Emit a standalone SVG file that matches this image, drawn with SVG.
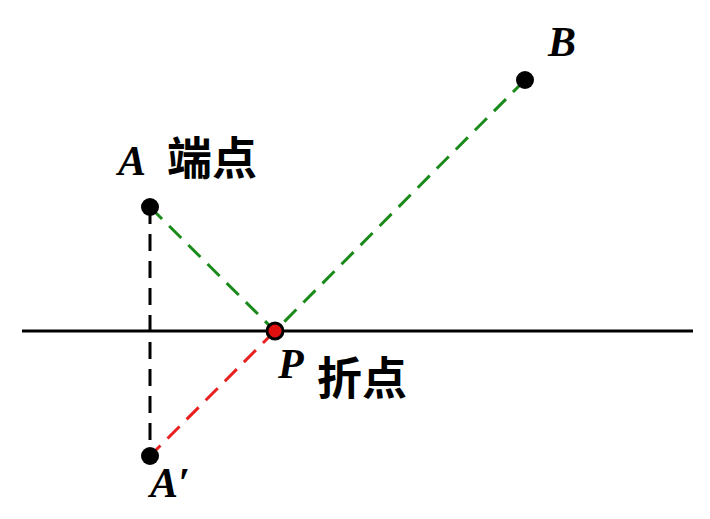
<svg xmlns="http://www.w3.org/2000/svg" width="710" height="519" viewBox="0 0 710 519">
<style>
.lbl{font-family:"Liberation Serif",serif;font-style:italic;font-weight:bold;font-size:42px;fill:#000}
.cjk{font-family:"Noto Sans CJK SC",sans-serif;font-weight:bold;font-size:45px;fill:#000}
.d{stroke-width:3;stroke-dasharray:17 10;fill:none}
.pt{fill:#000}
</style>
<rect width="710" height="519" fill="#fff"/>
<g id="connectors">
<line x1="22" y1="331" x2="693" y2="331" stroke="#000" stroke-width="3"/>
<line class="d" x1="150" y1="207" x2="150" y2="456" stroke="#000"/>
<line class="d" x1="150" y1="207" x2="275" y2="331" stroke="#1a8a1a"/>
<line class="d" x1="525" y1="80" x2="275" y2="331" stroke="#1a8a1a"/>
<line class="d" x1="275" y1="331" x2="150" y2="456" stroke="#e82020"/>
</g>
<g id="A">
<circle class="pt" cx="150" cy="207" r="9"/>
<text class="lbl" x="118" y="175">A</text>
<text class="cjk" x="167" y="175">端点</text>
</g>
<g id="B">
<circle class="pt" cx="525" cy="80" r="9"/>
<text class="lbl" x="548" y="56">B</text>
</g>
<g id="P">
<circle cx="275" cy="331" r="8" fill="#e01010" stroke="#000" stroke-width="3"/>
<text class="lbl" x="278" y="378">P</text>
<text class="cjk" x="317" y="395">折点</text>
</g>
<g id="A2">
<circle class="pt" cx="150" cy="456" r="9"/>
<text class="lbl" x="150" y="497">A′</text>
</g>
</svg>
